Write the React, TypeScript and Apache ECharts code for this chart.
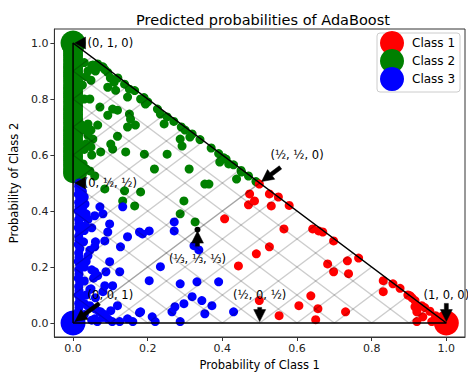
import React, { useEffect, useRef } from "react";
import * as echarts from "echarts";

// Predicted probabilities [P(class 1), P(class 2)] of test samples, by true class
const class1Points = [
  [0.499, 0.496], [0.473, 0.461], [0.486, 0.436], [0.47, 0.422], [0.526, 0.461], [0.55, 0.45],
  [0.531, 0.418], [0.579, 0.42], [0.406, 0.372], [0.565, 0.336], [0.642, 0.336], [0.658, 0.329],
  [0.669, 0.325], [0.698, 0.293], [0.526, 0.272], [0.491, 0.247], [0.443, 0.204], [0.682, 0.211],
  [0.698, 0.183], [0.735, 0.222], [0.738, 0.176], [0.637, 0.097], [0.499, 0.08], [0.605, 0.062],
  [0.656, 0.051], [0.552, 0.026], [0.65, 0.012], [0.73, 0.04], [0.765, 0.232], [0.831, 0.151],
  [0.857, 0.14], [0.876, 0.124], [0.831, 0.112], [0.897, 0.1], [0.908, 0.09], [0.916, 0.058],
  [0.942, 0.055], [0.921, 0.04], [0.937, 0.022], [0.921, 0.005], [0.961, 0.005], [0.977, 0.015],
  [0.982, 0.0], [0.916, 0.08], [0.934, 0.062], [0.956, 0.042], [0.971, 0.026], [0.903, 0.097],
];

// Class 2 samples predicted with P(class 1) = 0 (pile up on the left edge)
const class2EdgeY = [
  0.535, 0.55, 0.565, 0.58, 0.595, 0.61, 0.625, 0.64, 0.655, 0.67, 0.685, 0.7, 0.715, 0.73, 0.745,
  0.76, 0.775, 0.79, 0.805, 0.82, 0.835, 0.85, 0.865, 0.88, 0.895, 0.91, 0.925, 0.94, 0.955, 0.97, 0.985,
];

const class2Points = [
  [0.03, 0.93], [0.04, 0.9], [0.05, 0.92], [0.025, 0.85], [0.045, 0.8], [0.03, 0.8], [0.02, 0.71],
  [0.04, 0.67], [0.03, 0.62], [0.05, 0.6], [0.035, 0.55], [0.025, 0.53], [0.03, 0.69], [0.035, 0.64],
  [0.053, 0.921], [0.066, 0.925], [0.085, 0.905], [0.093, 0.895], [0.048, 0.867], [0.114, 0.831],
  [0.093, 0.842], [0.138, 0.853], [0.151, 0.835], [0.165, 0.83], [0.146, 0.807], [0.181, 0.8],
  [0.072, 0.771], [0.106, 0.764], [0.119, 0.76], [0.093, 0.742], [0.151, 0.746], [0.154, 0.728],
  [0.167, 0.707], [0.146, 0.7], [0.194, 0.782], [0.226, 0.764], [0.234, 0.746], [0.252, 0.736],
  [0.244, 0.711], [0.19, 0.805], [0.04, 0.711], [0.048, 0.689], [0.066, 0.707], [0.3, 0.689],
  [0.319, 0.675], [0.06, 0.9], [0.075, 0.915], [0.035, 0.88], [0.11, 0.86], [0.1, 0.875],
  [0.08, 0.915], [0.12, 0.875], [0.2, 0.79], [0.27, 0.72], [0.29, 0.7], [0.34, 0.655], [0.37, 0.625],
  [0.39, 0.605], [0.41, 0.585], [0.43, 0.565], [0.45, 0.545], [0.47, 0.525], [0.49, 0.505],
  [0.404, 0.59], [0.393, 0.575], [0.417, 0.568], [0.451, 0.539], [0.438, 0.514], [0.364, 0.496],
  [0.053, 0.657], [0.048, 0.629], [0.074, 0.611], [0.101, 0.639], [0.106, 0.621], [0.119, 0.667],
  [0.141, 0.611], [0.191, 0.603], [0.252, 0.603], [0.287, 0.657], [0.292, 0.632], [0.313, 0.664],
  [0.218, 0.55], [0.311, 0.55], [0.353, 0.496], [0.027, 0.568], [0.045, 0.543], [0.085, 0.479],
  [0.138, 0.472], [0.133, 0.436], [0.181, 0.468], [0.165, 0.418], [0.297, 0.436], [0.287, 0.39],
  [0.327, 0.361], [0.058, 0.525],
];

const class3Points = [
  [0.016, 0.5], [0.015, 0.488],
  [0.016, 0.475], [0.014, 0.46], [0.018, 0.445], [0.015, 0.43], [0.016, 0.415], [0.014, 0.4],
  [0.018, 0.385], [0.015, 0.37], [0.016, 0.355], [0.014, 0.34], [0.018, 0.325], [0.015, 0.31],
  [0.016, 0.295], [0.014, 0.28], [0.018, 0.265], [0.015, 0.25], [0.016, 0.235], [0.014, 0.22],
  [0.018, 0.205], [0.015, 0.19], [0.016, 0.175], [0.014, 0.16], [0.018, 0.145], [0.015, 0.13],
  [0.016, 0.115], [0.014, 0.1], [0.018, 0.085], [0.015, 0.07], [0.016, 0.055], [0.014, 0.04],
  [0.018, 0.025], [0.015, 0.01],
  [0.03, 0.45], [0.025, 0.41], [0.04, 0.37], [0.03, 0.33], [0.028, 0.29], [0.045, 0.26], [0.035, 0.22],
  [0.05, 0.19], [0.03, 0.15], [0.045, 0.12], [0.06, 0.09], [0.04, 0.06], [0.07, 0.04], [0.03, 0.03],
  [0.05, 0.01], [0.08, 0.02], [0.03, 0.07], [0.055, 0.16], [0.06, 0.29], [0.05, 0.34], [0.035, 0.1],
  [0.03, 0.2], [0.04, 0.24], [0.028, 0.38], [0.025, 0.47],
  [0.072, 0.415], [0.058, 0.383], [0.08, 0.39], [0.133, 0.415], [0.098, 0.354], [0.093, 0.325],
  [0.085, 0.293], [0.146, 0.308], [0.186, 0.318], [0.204, 0.329], [0.271, 0.361], [0.271, 0.329],
  [0.032, 0.425], [0.035, 0.39], [0.032, 0.347], [0.058, 0.272], [0.127, 0.272], [0.098, 0.219],
  [0.125, 0.183], [0.058, 0.183], [0.088, 0.183], [0.066, 0.169], [0.234, 0.201], [0.204, 0.151],
  [0.287, 0.14], [0.332, 0.147], [0.085, 0.133], [0.106, 0.133], [0.048, 0.122], [0.319, 0.094],
  [0.345, 0.08], [0.273, 0.058], [0.297, 0.069], [0.265, 0.04], [0.181, 0.04], [0.146, 0.015],
  [0.212, 0.022], [0.22, 0.005], [0.101, 0.044], [0.119, 0.062], [0.074, 0.04], [0.093, 0.015],
  [0.125, 0.005], [0.058, 0.015], [0.287, 0.005], [0.045, 0.062], [0.324, 0.276], [0.337, 0.261],
  [0.39, 0.147], [0.372, 0.062], [0.353, 0.033], [0.43, 0.04], [0.178, 0.325], [0.08, 0.112],
  [0.178, 0.037], [0.065, 0.005], [0.105, 0.005], [0.16, 0.005], [0.085, 0.03], [0.06, 0.05],
];

const legendNames = ["Class 1", "Class 2", "Class 3"];
const classColors = ["#ff0000", "#008000", "#0000ff"];
const vertexPoints = [[1, 0], [0, 1], [0, 0]];
const simplexEdges = [[0, 0], [1, 0], [0, 1], [0, 0]];
const isoLevels = [0, 0.1, 0.2, 0.3, 0.4, 0.5, 0.6, 0.7, 0.8, 0.9, 1.0];
const tickValues = [0, 0.2, 0.4, 0.6, 0.8, 1.0];
const centerPoint = [1 / 3, 1 / 3];

const annotationTexts = ["(1, 0, 0)", "(0, 1, 0)", "(0, 0, 1)", "(½, ½, 0)", "(½, 0, ½)", "(0, ½, ½)", "(⅓, ⅓, ⅓)"];
const annotationTargets = [[1, 0], [0, 1], [0, 0], [0.5, 0.5], [0.5, 0], [0, 0.5], [1 / 3, 1 / 3]];
const annotationTextPos = [[1, 0.1], [0.1, 1], [0.1, 0.1], [0.6, 0.6], [0.5, 0.1], [0.1, 0.5], [1 / 3, 0.23]];
const annotationIsFraction = [false, false, false, true, true, true, true];

const FONT = "DejaVu Sans";

function arrowPoints(S: number[], E: number[]) {
  const dx = E[0] - S[0];
  const dy = E[1] - S[1];
  const L = Math.hypot(dx, dy);
  const ux = dx / L, uy = dy / L;
  const nx = -uy, ny = ux;
  const hl = Math.min(12, L), hw = 6, sw = 2;
  const B = [E[0] - ux * hl, E[1] - uy * hl];
  return [
    [S[0] + nx * sw, S[1] + ny * sw],
    [B[0] + nx * sw, B[1] + ny * sw],
    [B[0] + nx * hw, B[1] + ny * hw],
    [E[0], E[1]],
    [B[0] - nx * hw, B[1] - ny * hw],
    [B[0] - nx * sw, B[1] - ny * sw],
    [S[0] - nx * sw, S[1] - ny * sw],
  ];
}

export default function App() {
  const ref = useRef<HTMLDivElement>(null);

  useEffect(() => {
    if (!ref.current) return;
    const chart = echarts.init(ref.current, null, { renderer: "svg" });

    const isoSegments: any[] = [];
    isoLevels.forEach((x) => {
      isoSegments.push({ coords: [[0, x], [x, 0]] });
      isoSegments.push({ coords: [[0, x], [(1 - x) / 2, x + (1 - x) / 2]] });
      isoSegments.push({ coords: [[x, 0], [x + (1 - x) / 2, (1 - x) / 2]] });
    });

    const axisCommon = {
      type: "value",
      min: -0.05,
      max: 1.05,
      nameLocation: "middle",
      nameTextStyle: { fontSize: 11.5, color: "#000", fontFamily: FONT },
      axisLine: { show: true, onZero: false, lineStyle: { color: "#333", width: 1 } },
      axisTick: { show: true, customValues: tickValues, length: 4, lineStyle: { color: "#333" } },
      axisLabel: {
        customValues: tickValues,
        formatter: (v: number) => v.toFixed(1),
        fontSize: 11,
        color: "#222",
        fontFamily: FONT,
        margin: 6,
      },
      splitLine: { show: false },
    };

    const scatter = (name: string, data: any[], color: string, size: number, z: number) => ({
      type: "scatter",
      name,
      data,
      symbolSize: size,
      itemStyle: { color, opacity: 1 },
      silent: true,
      z,
    });

    chart.setOption({
      animation: false,
      title: {
        text: "Predicted probabilities of AdaBoost",
        left: 258,
        top: 7,
        textAlign: "center",
        textStyle: { fontSize: 14.5, fontWeight: "normal", color: "#000", fontFamily: FONT },
      },
      grid: { left: 52, right: 3, top: 29, bottom: 38, show: true, borderColor: "#333", borderWidth: 1 },
      xAxis: { ...axisCommon, name: "Probability of Class 1", nameGap: 22 },
      yAxis: { ...axisCommon, name: "Probability of Class 2", nameGap: 34 },
      legend: {
        data: legendNames,
        orient: "vertical",
        left: 380,
        top: 31,
        itemWidth: 24,
        itemHeight: 24,
        itemGap: -6,
        icon: "circle",
        padding: 0,
        selectedMode: false,
        textStyle: { fontSize: 12, color: "#000", fontFamily: FONT, padding: [0, 0, 0, 3] },
        z: 10,
      },
      series: [
        scatter("pts-edge2", class2EdgeY.map((y) => [0, y]), classColors[1], 20, 2),
        scatter("pts2", class2Points, classColors[1], 9, 2),
        scatter("pts3", class3Points, classColors[2], 9, 2),
        scatter("pts1", class1Points, classColors[0], 9, 2),
        ...legendNames.map((n, i) => scatter(n, [vertexPoints[i]], classColors[i], 25, 3)),
        {
          type: "lines",
          coordinateSystem: "cartesian2d",
          data: isoSegments,
          lineStyle: { color: "rgba(0,0,0,0.2)", width: 1.5, opacity: 1 },
          silent: true,
          z: 4,
        },
        {
          type: "line",
          name: "Simplex",
          data: simplexEdges,
          symbol: "none",
          lineStyle: { color: "#000", width: 1.5 },
          silent: true,
          z: 5,
        },
        scatter("center", [centerPoint], "#000", 6, 6),
      ],
    });

    const graphics: any[] = [
      {
        type: "rect",
        shape: { x: 377, y: 33, width: 83, height: 59, r: 3 },
        style: { fill: "rgba(255,255,255,0.8)", stroke: "#cccccc", lineWidth: 1 },
        z: 9,
        silent: true,
      },
    ];

    annotationTexts.forEach((txt, i) => {
      const T = chart.convertToPixel({ gridIndex: 0 }, annotationTextPos[i]) as number[];
      const P = chart.convertToPixel({ gridIndex: 0 }, annotationTargets[i]) as number[];
      const halfW = txt.indexOf("⅓") >= 0 ? 26 : 23;
      const halfH = annotationIsFraction[i] ? 11 : 7;
      const dx = P[0] - T[0], dy = P[1] - T[1];
      const D = Math.hypot(dx, dy);
      const ux = dx / D, uy = dy / D;
      const tx = Math.abs(dx) > 1e-6 ? halfW / Math.abs(dx) : Infinity;
      const ty = Math.abs(dy) > 1e-6 ? halfH / Math.abs(dy) : Infinity;
      const t = Math.min(tx, ty);
      const shrink = 0.05 * D;
      const S = [T[0] + dx * t + ux * shrink, T[1] + dy * t + uy * shrink];
      const E = [P[0] - ux * shrink, P[1] - uy * shrink];
      graphics.push({
        type: "polygon",
        shape: { points: arrowPoints(S, E) },
        style: { fill: "#000", stroke: "#000", lineWidth: 0.5 },
        z: 8,
        silent: true,
      });
      graphics.push({
        type: "text",
        x: T[0],
        y: T[1],
        style: {
          text: txt,
          align: "center",
          verticalAlign: "middle",
          fontSize: 11.5,
          fontFamily: FONT,
          fill: "#000",
        },
        z: 8,
        silent: true,
      });
    });

    chart.setOption({ graphic: graphics });

    return () => chart.dispose();
  }, []);

  return (
    <div
      ref={ref}
      style={{ position: "fixed", left: 0, top: 0, width: 468, height: 376, background: "#fff" }}
    />
  );
}
